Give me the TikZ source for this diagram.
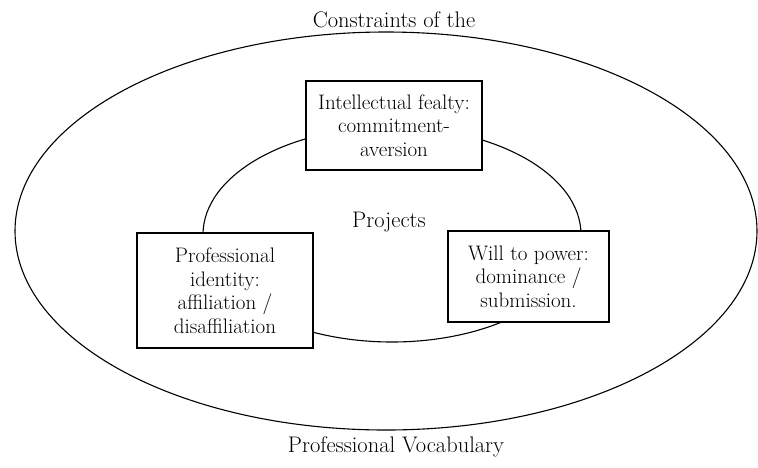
\documentclass[tikz,border=0pt]{standalone}
\usepackage{tikz}
\begin{document}
\begin{tikzpicture}[x=1pt,y=-1pt,
  line width=1.1pt,
  lbl/.style={font=\fontsize{22.5}{26}\selectfont, align=center, inner sep=0pt},
  boxnode/.style={draw, fill=white, line width=1.1pt, align=center, inner sep=0pt,
    font=\fontsize{21}{23.5}\selectfont}
]
\useasboundingbox (0,0) rectangle (758,467);
% outer ellipse
\draw (386,231) ellipse [x radius=371, y radius=199];
% inner ellipse
\draw (392,234.5) ellipse [x radius=189, y radius=107.5];
% boxes
\node[boxnode, minimum width=176, minimum height=89] (fealty) at (394,125.5)
  {Intellectual fealty:\\commitment-\\aversion};
\node[boxnode, minimum width=176, minimum height=115] (identity) at (225,290.5)
  {Professional\\identity:\\affiliation /\\disaffiliation};
\node[boxnode, minimum width=161, minimum height=91] (power) at (528.5,276.5)
  {Will to power:\\dominance /\\submission.};
% labels
\node[lbl] (projects) at (389,222) {Projects};
\node[lbl, anchor=base] (top) at (394,27) {Constraints of the};
\node[lbl, anchor=base] (bottom) at (396,452) {Professional Vocabulary};
\end{tikzpicture}
\end{document}
